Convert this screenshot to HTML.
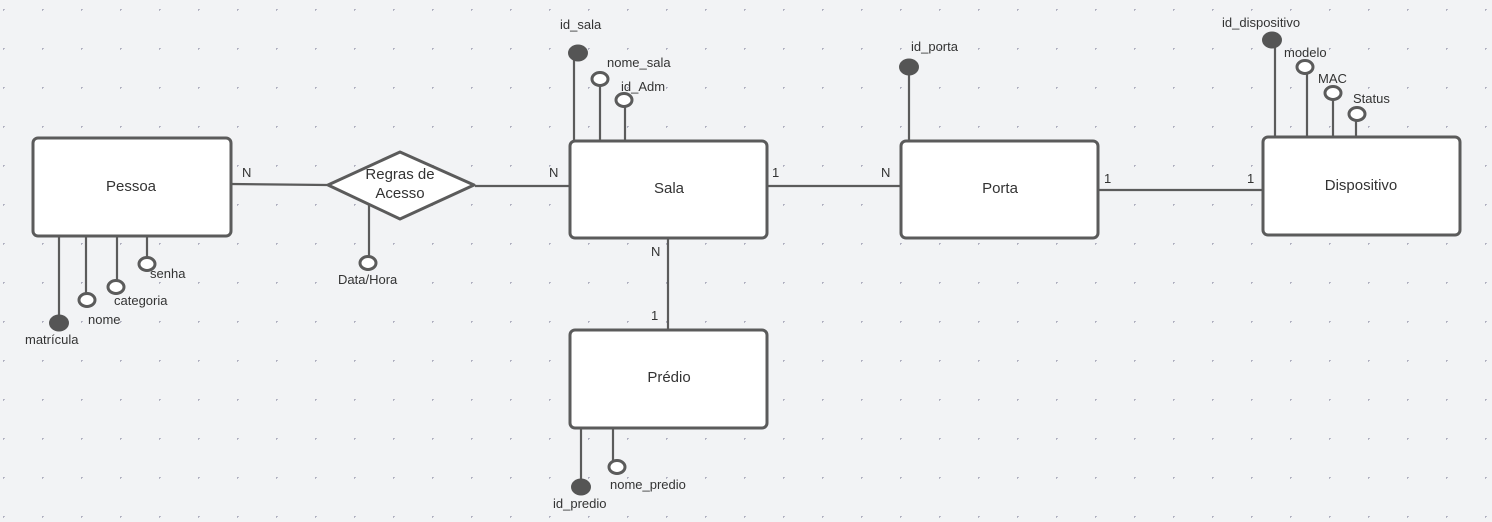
<!DOCTYPE html>
<html><head><meta charset="utf-8"><style>
html,body{margin:0;padding:0;background:#f2f3f5;}
svg{display:block;}
text{font-family:"Liberation Sans",sans-serif;fill:#333;}
</style></head><body>
<svg width="1492" height="522" viewBox="0 0 1492 522" xmlns="http://www.w3.org/2000/svg">
<defs>
<pattern id="g" x="3" y="9" width="39" height="39" patternUnits="userSpaceOnUse">
<path d="M-1.5 0H1.5M0 -1.5V1.5" stroke="#aab" stroke-width="0.8" transform="translate(0.5,0.5)"/>
</pattern>
</defs>
<rect width="1492" height="522" fill="#f2f3f5"/>
<rect width="1492" height="522" fill="url(#g)"/>
<g stroke="#5b5b5b" stroke-width="2.2" fill="none">
<!-- connectors -->
<line x1="231" y1="184" x2="327" y2="185"/>
<line x1="475" y1="186" x2="570" y2="186"/>
<line x1="767" y1="186" x2="901" y2="186"/>
<line x1="1098" y1="190" x2="1263" y2="190"/>
<line x1="668" y1="238" x2="668" y2="330"/>
<!-- Pessoa attrs -->
<line x1="59" y1="236" x2="59" y2="320"/>
<line x1="86" y1="236" x2="86" y2="294"/>
<line x1="117" y1="236" x2="117" y2="281"/>
<line x1="147" y1="236" x2="147" y2="258"/>
<line x1="369" y1="205" x2="369" y2="257"/>
<!-- Sala attrs -->
<line x1="574" y1="56" x2="574" y2="141"/>
<line x1="600" y1="84" x2="600" y2="141"/>
<line x1="625" y1="105" x2="625" y2="141"/>
<!-- Porta -->
<line x1="909" y1="70" x2="909" y2="141"/>
<!-- Dispositivo -->
<line x1="1275" y1="44" x2="1275" y2="137"/>
<line x1="1307" y1="72" x2="1307" y2="137"/>
<line x1="1333" y1="98" x2="1333" y2="137"/>
<line x1="1356" y1="118" x2="1356" y2="137"/>
<!-- Predio -->
<line x1="581" y1="428" x2="581" y2="484"/>
<line x1="613" y1="428" x2="613" y2="462"/>
</g>
<g stroke="#5b5b5b" stroke-width="3" fill="#fff">
<rect x="33" y="138" width="198" height="98" rx="5"/>
<rect x="570" y="141" width="197" height="97" rx="5"/>
<rect x="901" y="141" width="197" height="97" rx="5"/>
<rect x="1263" y="137" width="197" height="98" rx="5"/>
<rect x="570" y="330" width="197" height="98" rx="5"/>
<polygon points="328,185 400,152 474,185 400,219" stroke-linejoin="round"/>
<!-- open circles -->
<ellipse cx="87" cy="300" rx="8" ry="6.5"/>
<ellipse cx="116" cy="287" rx="8" ry="6.5"/>
<ellipse cx="147" cy="264" rx="8" ry="6.5"/>
<ellipse cx="368" cy="263" rx="8" ry="6.5"/>
<ellipse cx="600" cy="79" rx="8" ry="6.5"/>
<ellipse cx="624" cy="100" rx="8" ry="6.5"/>
<ellipse cx="1305" cy="67" rx="8" ry="6.5"/>
<ellipse cx="1333" cy="93" rx="8" ry="6.5"/>
<ellipse cx="1357" cy="114" rx="8" ry="6.5"/>
<ellipse cx="617" cy="467" rx="8" ry="6.5"/>
</g>
<g fill="#555">
<ellipse cx="59" cy="323" rx="10" ry="8.5"/>
<ellipse cx="578" cy="53" rx="10" ry="8.5"/>
<ellipse cx="909" cy="67" rx="10" ry="8.5"/>
<ellipse cx="1272" cy="40" rx="10" ry="8.5"/>
<ellipse cx="581" cy="487" rx="10" ry="8.5"/>
</g>
<g font-size="15" text-anchor="middle">
<text x="131" y="191">Pessoa</text>
<text x="669" y="193">Sala</text>
<text x="1000" y="193">Porta</text>
<text x="1361" y="190">Dispositivo</text>
<text x="669" y="382">Prédio</text>
<text x="400" y="179">Regras de</text>
<text x="400" y="198">Acesso</text>
</g>
<g font-size="13">
<text x="242" y="177">N</text>
<text x="549" y="177">N</text>
<text x="772" y="177">1</text>
<text x="881" y="177">N</text>
<text x="1104" y="183">1</text>
<text x="1247" y="183">1</text>
<text x="651" y="256">N</text>
<text x="651" y="320">1</text>
<text x="25" y="344">matrícula</text>
<text x="88" y="324">nome</text>
<text x="114" y="305">categoria</text>
<text x="150" y="278">senha</text>
<text x="338" y="284">Data/Hora</text>
<text x="560" y="29">id_sala</text>
<text x="607" y="67">nome_sala</text>
<text x="621" y="91">id_Adm</text>
<text x="911" y="51">id_porta</text>
<text x="1222" y="27">id_dispositivo</text>
<text x="1284" y="57">modelo</text>
<text x="1318" y="83">MAC</text>
<text x="1353" y="103">Status</text>
<text x="553" y="508">id_predio</text>
<text x="610" y="489">nome_predio</text>
</g>
</svg>
</body></html>
